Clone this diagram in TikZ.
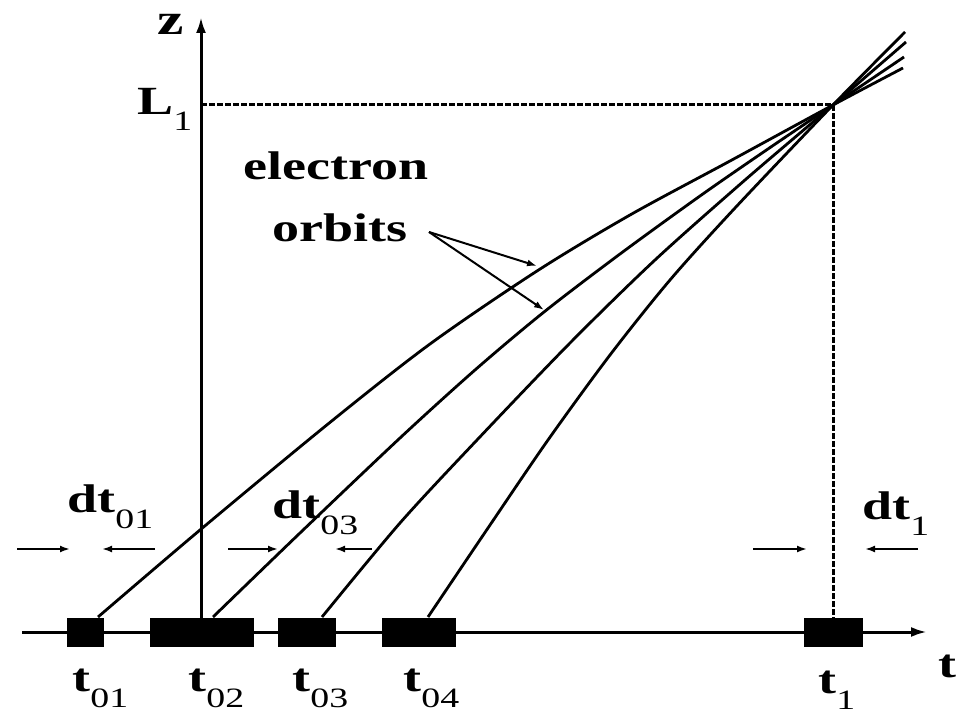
\documentclass[tikz,border=0pt]{standalone}
\usepackage{fontspec}
\setmainfont{Liberation Serif}[FakeStretch=1.35]
\usetikzlibrary{arrows.meta,positioning,calc}

\newcommand{\lsub}[2][8pt]{\raisebox{-#1}{\mdseries\fontsize{14}{14}\selectfont #2}}

\begin{document}
\begin{tikzpicture}[
  x=0.5pt, y=-0.5pt,
  orbit/.style={draw, line width=1.4pt},
  axis/.style={line width=1.5pt, -{Latex[length=8pt,width=5pt]}},
  guide/.style={line width=1.5pt, dash pattern=on 3pt off 1pt},
  slot/.style={fill=black, inner sep=0pt, minimum height=14.5pt},
  lbl/.style={font=\fontsize{20}{24}\selectfont\bfseries, inner sep=0pt, anchor=base west},
  gap/.style={line width=1pt, -{Latex[length=5pt,width=3.5pt]}},
  pointer/.style={line width=1pt, -{Latex[length=5pt,width=3.5pt]}}
  ]
\useasboundingbox (0,0) rectangle (963,715);

% axes
\coordinate (o) at (201,632);
\coordinate (ztop) at (201,17);
\coordinate (tl) at (22,632);
\coordinate (tr) at (927,632);
\coordinate (F) at (833,105);
\coordinate (zL) at (201,105);
\draw[axis] (tl) -- (tr);
\draw[axis] (o) -- (ztop);

% focus lines
\draw[guide] (zL) -- (F) -- (F |- o);

% orbits
\draw[orbit] plot[smooth] coordinates {(98,617) (200,530) (328,424) (430,344) (537,271) (630,215) (730,161) (F) (903,68)};
\draw[orbit] plot[smooth] coordinates {(213,617) (300,533) (400,438) (475,370) (544,312) (620,254) (700,196) (765,151) (F) (904,57)};
\draw[orbit] plot[smooth] coordinates {(322,617) (400,523) (477,440) (570,343) (655,260) (745,180) (F) (906,42)};
\draw[orbit] plot[smooth] coordinates {(428,617) (488,528) (548,440) (610,355) (670,280) (735,208) (F) (905,32)};

% slots on the t axis
\foreach \name/\cx/\w in {b01/85.5/37, b02/202/104, b03/307/58, b04/419/74, b1/833.5/59}
  \node[slot, minimum width=\w*0.5pt] (\name) at (\cx,632) {};

% labels
\node[lbl, font=\fontsize{22}{24}\selectfont\bfseries] (z) at (157,35) {z};
\node[lbl] (L1) at (137,115) {L\lsub{1}};
\node[lbl] (t) at (938,677) {t};
\node[lbl] (electron) at (243,180) {electron};
\node[lbl] (orbits) at (272,242) {orbits};
\node[lbl] (t01) at (72,691) {t\lsub{01}};
\node[lbl] (t02) at (188,691) {t\lsub{02}};
\node[lbl] (t03) at (292,691) {t\lsub{03}};
\node[lbl] (t04) at (403,691) {t\lsub{04}};
\node[lbl] (t1) at (818,693) {t\lsub{1}};
\node[lbl] (dt01) at (67,513) {dt\lsub{01}};
\node[lbl] (dt03) at (272,518) {dt\lsub{03}};
\node[lbl] (dt1) at (862,520) {dt\lsub{1}};

% pointers to the orbits
\coordinate (ptr) at (429,232);
\coordinate (h1) at (537,266);
\coordinate (h2) at (544,310);
\draw[pointer] (ptr) -- (h1);
\draw[pointer] (ptr) -- (h2);

% spread arrows
\foreach \s/\e [count=\i] in {17/70, 155/102, 228/278, 372/335, 753/807, 918/865}{
  \coordinate (ds\i) at (\s,549);
  \coordinate (de\i) at (\e,549);
  \draw[gap] (ds\i) -- (de\i);
}

\end{tikzpicture}
\end{document}
